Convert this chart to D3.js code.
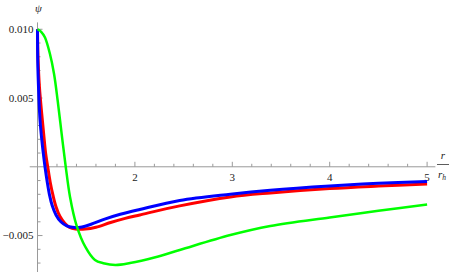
<!DOCTYPE html>
<html>
<head>
<meta charset="utf-8">
<script src="https://cdn.jsdelivr.net/npm/d3@7"></script>
<style>
  body { margin: 0; background: #fff; }
  svg { display: block; }
</style>
</head>
<body>
<script>
/* Data
***********************************************************************/
var rBlue   = [1.0, 1.003, 1.012, 1.026, 1.045, 1.06, 1.077, 1.1, 1.125, 1.15, 1.19, 1.24, 1.3, 1.36, 1.44, 1.55, 1.69, 1.85, 2.05, 2.46, 2.98, 3.39, 4.0, 4.5, 5.0];
var psiBlue = [0.0100, 0.0075, 0.0055, 0.0034, 0.0019, 0.00096, 0, -0.0011, -0.0021, -0.0028, -0.0035, -0.0040, -0.0043, -0.0044, -0.0044, -0.00418, -0.0038, -0.00345, -0.0031, -0.00245, -0.00199, -0.0017, -0.00139, -0.0012, -0.00107];

var rRed   = [1.0, 1.005, 1.02, 1.05, 1.07, 1.084, 1.105, 1.13, 1.16, 1.19, 1.23, 1.28, 1.33, 1.39, 1.49, 1.6, 1.75, 1.9, 2.05, 2.46, 2.98, 3.39, 4.0, 4.5, 5.0];
var psiRed = [0.0100, 0.0080, 0.0058, 0.00337, 0.0019, 0.00096, 0, -0.0011, -0.0021, -0.0029, -0.0036, -0.0041, -0.0044, -0.00452, -0.00453, -0.0044, -0.00405, -0.00375, -0.0035, -0.00284, -0.00219, -0.0019, -0.00158, -0.0014, -0.00125];

var rGreen   = [1.0, 1.04, 1.077, 1.128, 1.17, 1.207, 1.248, 1.29, 1.334, 1.40, 1.49, 1.59, 1.676, 1.8, 1.95, 2.2, 2.46, 2.98, 3.39, 4.0, 4.5, 5.0];
var psiGreen = [0.0100, 0.0098, 0.0094, 0.0082, 0.00675, 0.00482, 0.0024, 0, -0.00219, -0.00424, -0.00581, -0.00678, -0.00701, -0.00714, -0.0070, -0.0066, -0.00605, -0.00496, -0.0043, -0.00368, -0.0032, -0.00274];

var xMajor = [2, 3, 4, 5];
var xLabels = ["2", "3", "4", "5"];
var yMajor = [0.010, 0.005, -0.005];
var yLabels = ["0.010", "0.005", "\u22120.005"];

/* Setup SVG
***********************************************************************/
var svgW = 458;
var svgH = 273;

var svg = d3.select("body").append("svg")
	.attr("width", svgW)
	.attr("height", svgH);

// x: r/r_h, y: psi (axes cross at r = 1, psi = 0)
var xScale = d3.scaleLinear()
	.domain([1, 5])
	.range([37.5, 427.1]);
var yScale = d3.scaleLinear()
	.domain([-0.00765, 0.0105])
	.range([272, 22.4]);

var axisColor = "#9a9a9a";
var fontfam = "'Times New Roman', Times, 'Liberation Serif', 'DejaVu Serif', serif";

/* Axes
***********************************************************************/
var axisG = svg.append("g").attr("id", "axes");
var x0 = xScale(1), y0 = yScale(0);

// x axis line
axisG.append("line")
	.attr("x1", xScale(0.92)).attr("x2", xScale(5.085))
	.attr("y1", y0).attr("y2", y0)
	.attr("stroke", axisColor).attr("stroke-width", 1);

// y axis line
axisG.append("line")
	.attr("x1", x0).attr("x2", x0)
	.attr("y1", yScale(0.0105)).attr("y2", yScale(-0.00765))
	.attr("stroke", axisColor).attr("stroke-width", 1);

// x ticks (minor every 0.2, major on integers), pointing up
d3.range(1.2, 5.01, 0.2).forEach(function(v) {
	var major = Math.abs(v - Math.round(v)) < 1e-6;
	axisG.append("line")
		.attr("x1", xScale(v)).attr("x2", xScale(v))
		.attr("y1", y0).attr("y2", y0 - (major ? 5 : 3))
		.attr("stroke", axisColor).attr("stroke-width", 1);
});

// y ticks (minor every 0.001, major every 0.005), pointing right
d3.range(-7, 11).forEach(function(k) {
	if (k == 0) return;
	var v = k * 0.001;
	var major = (k % 5 == 0);
	axisG.append("line")
		.attr("x1", x0).attr("x2", x0 + (major ? 5 : 3))
		.attr("y1", yScale(v)).attr("y2", yScale(v))
		.attr("stroke", axisColor).attr("stroke-width", 1);
});

// tick labels
xMajor.forEach(function(v, i) {
	axisG.append("text")
		.text(xLabels[i])
		.attr("x", xScale(v))
		.attr("y", y0 + 14)
		.attr("text-anchor", "middle")
		.attr("font-family", fontfam)
		.attr("font-size", "11px")
		.attr("fill", "#222");
});

yMajor.forEach(function(v, i) {
	axisG.append("text")
		.text(yLabels[i])
		.attr("x", x0 - 4)
		.attr("y", yScale(v))
		.attr("dy", ".35em")
		.attr("text-anchor", "end")
		.attr("font-family", fontfam)
		.attr("font-size", "11px")
		.attr("fill", "#222");
});

// axis labels
axisG.append("text")
	.text("\u03c8")
	.attr("x", x0 + 1)
	.attr("y", 12)
	.attr("text-anchor", "middle")
	.attr("font-family", fontfam)
	.attr("font-style", "italic")
	.attr("font-size", "11px")
	.attr("fill", "#222");

var fracX = 443;
axisG.append("text")
	.text("r")
	.attr("x", fracX)
	.attr("y", 159)
	.attr("text-anchor", "middle")
	.attr("font-family", fontfam)
	.attr("font-style", "italic")
	.attr("font-size", "11px")
	.attr("fill", "#222");
axisG.append("line")
	.attr("x1", fracX - 6).attr("x2", fracX + 6)
	.attr("y1", 164.5).attr("y2", 164.5)
	.attr("stroke", "#333").attr("stroke-width", 0.8);
var rh = axisG.append("text")
	.attr("x", fracX - 5)
	.attr("y", 178)
	.attr("font-family", fontfam)
	.attr("font-style", "italic")
	.attr("font-size", "11px")
	.attr("fill", "#222");
rh.append("tspan").text("r");
rh.append("tspan").text("h").attr("font-size", "7.5px").attr("dy", 2);

/* Curves
***********************************************************************/
var lineGen = d3.line()
	.x(function(d) { return xScale(d[0]); })
	.y(function(d) { return yScale(d[1]); })
	.curve(d3.curveCatmullRom.alpha(0.5));

function drawCurve(rs, ps, color, width) {
	var pts = rs.map(function(r, i) { return [r, ps[i]]; });
	svg.append("path")
		.attr("d", lineGen(pts))
		.attr("fill", "none")
		.attr("stroke", color)
		.attr("stroke-width", width)
		.attr("stroke-linejoin", "round");
}

drawCurve(rRed, psiRed, "#ff0000", 3);
drawCurve(rBlue, psiBlue, "#0000ff", 3);
drawCurve(rGreen, psiGreen, "#00ff00", 2.5);
</script>
</body>
</html>
